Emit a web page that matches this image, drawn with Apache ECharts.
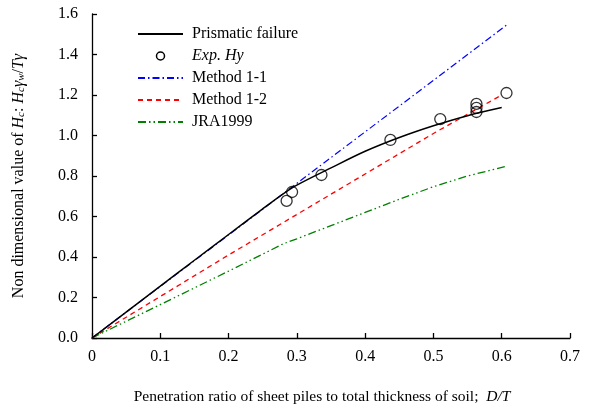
<!DOCTYPE html>
<html><head><meta charset="utf-8">
<script src="https://cdn.jsdelivr.net/npm/echarts@6/dist/echarts.min.js"></script>
<style>html,body{margin:0;padding:0;background:#fff}#c{width:589px;height:410px}</style>
</head><body><div id="c"></div>
<script>
const xTicks = [0, 0.1, 0.2, 0.3, 0.4, 0.5, 0.6, 0.7];
const expX = [0.285, 0.293, 0.336, 0.437, 0.510, 0.563, 0.563, 0.563, 0.607];
const expY = [0.677, 0.721, 0.805, 0.978, 1.081, 1.156, 1.136, 1.116, 1.210];
const prismX = [0, 0.05, 0.1, 0.15, 0.2, 0.25, 0.28, 0.3, 0.35, 0.4, 0.45, 0.5, 0.55, 0.6];
const prismY = [0, 0.128, 0.256, 0.384, 0.511, 0.638, 0.712, 0.755, 0.840, 0.922, 0.990, 1.048, 1.098, 1.138];
const m11X = [0, 0.2, 0.4, 0.607];
const m11Y = [0, 0.509, 1.018, 1.545];
const m12X = [0, 0.1, 0.2, 0.3, 0.4, 0.5, 0.6];
const m12Y = [0, 0.205, 0.41, 0.61, 0.81, 1.01, 1.2];
const jraX = [0, 0.1, 0.2, 0.28, 0.3, 0.35, 0.4, 0.45, 0.5, 0.55, 0.607];
const jraY = [0, 0.165, 0.33, 0.465, 0.49, 0.555, 0.62, 0.685, 0.747, 0.8, 0.848];

const zip = (a, b) => a.map((v, i) => [v, b[i]]);
const FONT = 'Liberation Serif';
const hideSym = { opacity: 0 };
const chart = echarts.init(document.getElementById('c'));
chart.setOption({
  animation: false,
  backgroundColor: '#fff',
  textStyle: { fontFamily: FONT, color: '#000' },
  grid: { left: 92, right: 19, top: 14, bottom: 72, containLabel: false },
  legend: {
    orient: 'vertical', left: 137, top: 26, padding: 0,
    itemWidth: 45, itemHeight: 8, itemGap: 6,
    textStyle: { fontFamily: FONT, fontSize: 16, color: '#000', lineHeight: 16, padding: [0, 0, 0, 4] },
    data: [
      { name: 'Prismatic failure', itemStyle: hideSym },
      { name: 'Exp. Hy', icon: 'circle', itemStyle: { color: '#fff', borderColor: '#000', borderWidth: 1.5, opacity: 1 }, textStyle: { fontStyle: 'italic' } },
      { name: 'Method 1-1', itemStyle: hideSym },
      { name: 'Method 1-2', itemStyle: hideSym },
      { name: 'JRA1999', itemStyle: hideSym }
    ]
  },
  xAxis: {
    type: 'value', min: 0, max: 0.7, interval: 0.1,
    axisLine: { lineStyle: { color: '#000', width: 1.3 } },
    axisTick: { inside: true, length: 5, lineStyle: { color: '#000', width: 1.3 } },
    splitLine: { show: false },
    axisLabel: { color: '#000', fontSize: 16, fontFamily: FONT, margin: 11,
      formatter: v => { const t = xTicks.find(x => Math.abs(x - v) < 1e-9); return t === 0 ? '0' : String(t); } },
    name: 'Penetration ratio of sheet piles to total thickness of soil;  {i|D/T}',
    nameLocation: 'middle', nameGap: 51,
    nameTextStyle: { fontFamily: FONT, fontSize: 15.5, color: '#000', padding: [0, 18, 0, 0],
      rich: { i: { fontStyle: 'italic', fontFamily: FONT, fontSize: 15.5, color: '#000' } } }
  },
  yAxis: {
    type: 'value', min: 0, max: 1.6, interval: 0.2,
    axisLine: { show: true, lineStyle: { color: '#000', width: 1.3 } },
    axisTick: { show: true, inside: true, length: 5, lineStyle: { color: '#000', width: 1.3 } },
    splitLine: { show: false },
    axisLabel: { color: '#000', fontSize: 16, fontFamily: FONT, margin: 14, formatter: v => v.toFixed(1) },
    name: 'Non dimensional value of {i|H}{s|c}{n|: }{i|H}{s|c}{i|γ}{s|w}{n|/}{i|Tγ}',
    nameLocation: 'middle', nameGap: 65, nameRotate: 90,
    nameTextStyle: { fontFamily: FONT, fontSize: 16, color: '#000',
      rich: {
        i: { fontStyle: 'italic', fontFamily: FONT, fontSize: 16, color: '#000' },
        n: { fontFamily: FONT, fontSize: 16, color: '#000' },
        s: { fontStyle: 'italic', fontFamily: FONT, fontSize: 11, color: '#000', verticalAlign: 'bottom', padding: [5, 0, 0, 0] }
      } }
  },
  series: [
    { name: 'Method 1-1', type: 'line', data: zip(m11X, m11Y), symbol: 'none', z: 2,
      lineStyle: { color: '#0000ff', width: 1.2, type: [7, 3, 1.5, 3] }, itemStyle: { color: '#0000ff' } },
    { name: 'Method 1-2', type: 'line', data: zip(m12X, m12Y), symbol: 'none', z: 2,
      lineStyle: { color: '#ff0000', width: 1.3, type: [5, 4] }, itemStyle: { color: '#ff0000' } },
    { name: 'JRA1999', type: 'line', data: zip(jraX, jraY), symbol: 'none', z: 2,
      lineStyle: { color: '#008000', width: 1.3, type: [8, 3, 1.5, 3, 1.5, 3] }, itemStyle: { color: '#008000' } },
    { name: 'Prismatic failure', type: 'line', data: zip(prismX, prismY), symbol: 'none', smooth: 0.3, z: 3,
      lineStyle: { color: '#000', width: 1.5 }, itemStyle: { color: '#000' } },
    { name: 'Exp. Hy', type: 'scatter', data: zip(expX, expY), symbol: 'circle', symbolSize: 11, z: 4,
      itemStyle: { color: 'rgba(255,255,255,0)', borderColor: '#000', borderWidth: 1.3 } }
  ]
});
</script></body></html>
